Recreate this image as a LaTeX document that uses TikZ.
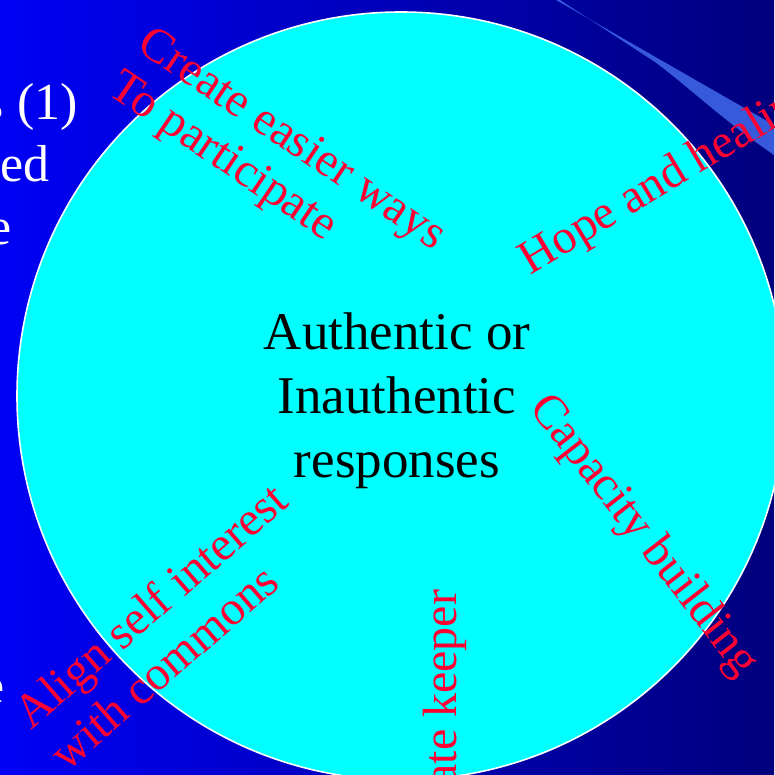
\documentclass[tikz,border=0pt]{standalone}
\usepackage{fontspec}
\setmainfont{Liberation Serif}
\usetikzlibrary{positioning}

\definecolor{slideblue}{RGB}{0,0,245}
\definecolor{slidenavy}{RGB}{0,0,125}
\definecolor{streakblue}{RGB}{55,90,220}
\definecolor{spokered}{RGB}{255,0,51}
\definecolor{disccyan}{RGB}{0,255,255}

\begin{document}
\begin{tikzpicture}[
    x=1pt, y=-1pt,
    % the big round disc
    disc/.style={circle, draw=white, line width=1.6pt, fill=disccyan, minimum size=768pt, inner sep=0pt},
    % text in the middle
    core/.style={font=\fontsize{53}{64}\selectfont, align=center, text=black, inner sep=0pt},
    % red texts round the disc
    spoke/.style={font=\fontsize{48}{53}\selectfont, text=spokered, inner sep=0pt},
    % slide text hidden behind the disc
    behind/.style={font=\fontsize{52}{63}\selectfont, text=white, inner sep=0pt, anchor=base east}
]
\useasboundingbox (0,0) rectangle (774,775);
\clip (0,0) rectangle (774,775);

% 1. background of the slide
\shade [left color=slideblue, right color=slidenavy] (0,0) rectangle (774,775);
\fill [streakblue] (556,0) -- (774,125) -- (774,155) .. controls (720,118) and (690,88) .. (655,62) -- (560,0) -- cycle;

\node [behind] (title) at (78,120) {s (1)};
\node [behind] (linetwo) at (50,182) {ed};
\node [behind] (linethree) at (12,245) {e};
\node [behind] (linefour) at (5,703) {e};

% 2. disc and its texts
\node [disc] (disc) at (401,396) {};
\node [core] (responses) at (397,401) {Authentic or\\Inauthentic\\responses};

\node [spoke, align=left, rotate=-34] (easier) at (276,163) {Create easier ways\\To participate};
\node [spoke, rotate=31] (hope) at (670,178) {Hope and healing};
\node [spoke, rotate=-52] (capacity) at (643,536) {Capacity building};
\node [spoke, rotate=90] (gate) at (445,705) {Gate keeper};
\node [spoke, align=left, rotate=41, font=\fontsize{48}{55}\selectfont] (commons) at (168,626) {Align self interest\\with commons};

\end{tikzpicture}
\end{document}
